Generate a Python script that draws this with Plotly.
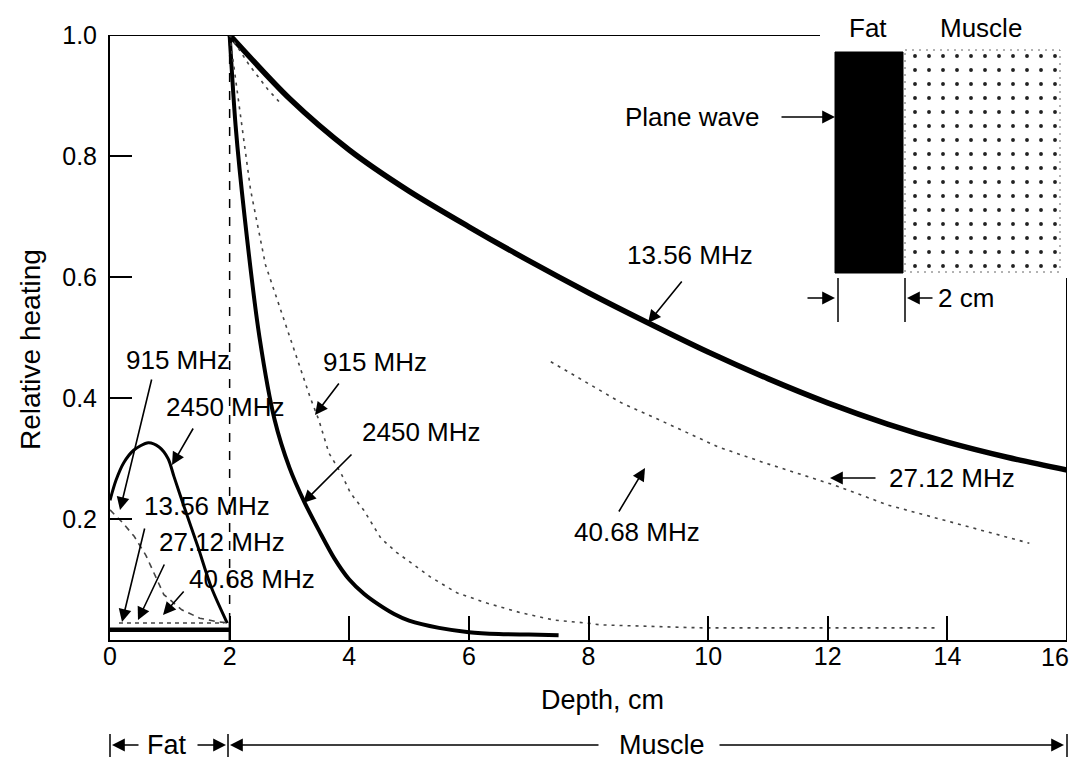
import plotly.graph_objects as go

# ---------------- data ----------------
# Muscle region (depth >= 2 cm)
depth_1356 = [2, 3, 4, 5, 6, 7, 8, 9, 10, 11, 12, 13, 14, 15, 16]
heat_1356 = [1.0, 0.895, 0.81, 0.742, 0.683, 0.627, 0.574, 0.524, 0.476, 0.432, 0.392, 0.357, 0.327, 0.302, 0.281]

depth_2450_m = [2.0, 2.1, 2.25, 2.5, 2.75, 3.0, 3.25, 3.5, 3.75, 4.0, 4.25, 4.5, 4.75, 5.0, 5.5, 6.0, 6.5, 7.0, 7.5]
heat_2450_m = [1.0, 0.85, 0.70, 0.50, 0.365, 0.285, 0.228, 0.18, 0.135, 0.10, 0.076, 0.058, 0.043, 0.032, 0.02, 0.013, 0.01, 0.009, 0.008]

depth_915_m = [2.0, 2.35, 2.6, 3.35, 3.49, 3.66, 3.86, 4.02, 4.24, 4.53, 4.79, 5.13, 5.36, 5.8, 6.3, 6.87, 7.42, 7.97, 8.2, 9.9, 11.0, 13.8]
heat_915_m = [1.0, 0.744, 0.62, 0.40, 0.364, 0.309, 0.276, 0.243, 0.215, 0.168, 0.145, 0.121, 0.104, 0.078, 0.061, 0.045, 0.033, 0.028, 0.025, 0.02, 0.02, 0.02]

depth_2712_m = [2.0, 2.33, 2.64, 2.87, None, 7.37, 8.55, 9.18, 10.17, 10.94, 12.11, 13.01, 14.06, 15.37]
heat_2712_m = [1.0, 0.95, 0.91, 0.885, None, 0.46, 0.392, 0.364, 0.319, 0.293, 0.256, 0.223, 0.195, 0.16]

# Fat region (0-2 cm)
depth_2450_f = [0.0, 0.1, 0.23, 0.4, 0.64, 0.82, 0.97, 1.07, 1.24, 1.47, 1.69, 1.96]
heat_2450_f = [0.231, 0.264, 0.293, 0.314, 0.326, 0.319, 0.30, 0.27, 0.22, 0.154, 0.088, 0.028]

depth_915_f = [0.0, 0.2, 0.4, 0.6, 0.9, 1.2, 1.5, 1.8, 2.0]
heat_915_f = [0.215, 0.195, 0.172, 0.14, 0.075, 0.05, 0.036, 0.03, 0.028]

depth_low_f = [0.0, 2.0]
heat_low_f = [0.017, 0.017]

depth_low2_f = [0.15, 1.9]
heat_low2_f = [0.028, 0.028]

x_tick_vals = [0, 2, 4, 6, 8, 10, 12, 14, 16]
x_tick_text = ["0", "2", "4", "6", "8", "10", "12", "14", ""]
y_tick_vals = [0.2, 0.4, 0.6, 0.8, 1.0]
y_tick_text = ["0.2", "0.4", "0.6", "0.8", "1.0"]

# ---------------- layout helpers ----------------
FONT = "Liberation Sans, Arial, Helvetica, sans-serif"
W, H = 1071, 765
L, R, T, B = 110, 4, 35, 125
PW, PH = W - L - R, H - T - B
XMAX = 16.0


def dx(px):
    return (px - L) / PW * XMAX


def dy(py):
    return (T + PH - py) / PH


def pxp(px):
    return (px - L) / PW


fig = go.Figure()

fig.add_trace(go.Scatter(x=depth_1356, y=heat_1356, mode="lines",
                         line=dict(color="black", width=5.5, shape="spline", smoothing=0.8),
                         hoverinfo="skip"))
fig.add_trace(go.Scatter(x=depth_2450_m, y=heat_2450_m, mode="lines",
                         line=dict(color="black", width=4, shape="spline", smoothing=0.8),
                         hoverinfo="skip"))
fig.add_trace(go.Scatter(x=depth_915_m, y=heat_915_m, mode="lines",
                         line=dict(color="#444", width=1.6, dash="3px,5px"),
                         hoverinfo="skip"))
fig.add_trace(go.Scatter(x=depth_2712_m, y=heat_2712_m, mode="lines",
                         line=dict(color="#444", width=1.6, dash="3px,5px"),
                         connectgaps=False, hoverinfo="skip"))
fig.add_trace(go.Scatter(x=depth_2450_f, y=heat_2450_f, mode="lines",
                         line=dict(color="black", width=3, shape="spline", smoothing=0.8),
                         hoverinfo="skip"))
fig.add_trace(go.Scatter(x=depth_915_f, y=heat_915_f, mode="lines",
                         line=dict(color="#444", width=1.6, dash="6px,5px"),
                         hoverinfo="skip"))
fig.add_trace(go.Scatter(x=depth_low_f, y=heat_low_f, mode="lines",
                         line=dict(color="black", width=4.5), hoverinfo="skip"))
fig.add_trace(go.Scatter(x=depth_low2_f, y=heat_low2_f, mode="lines",
                         line=dict(color="#444", width=1.5, dash="4px,4px"), hoverinfo="skip"))

# stippled muscle block of the inset
mx0, mx1, my0, my1 = dx(905), dx(1060), dy(50), dy(272)
fig.add_trace(go.Scatter(x=[mx0, mx1, mx1, mx0, mx0], y=[my0, my0, my1, my1, my0],
                         mode="lines", fill="toself", fillcolor="white",
                         fillpattern=dict(shape=".", fgcolor="#222", bgcolor="white",
                                          size=14, solidity=0.06),
                         line=dict(color="#666", width=1, dash="2px,5px"),
                         hoverinfo="skip"))

shapes = []
shapes.append(dict(type="line", xref="x", yref="y", x0=0, x1=dx(820), y0=1.0, y1=1.0,
                   line=dict(color="black", width=2)))
shapes.append(dict(type="line", xref="x", yref="y", x0=16, x1=16, y0=0, y1=dy(278),
                   line=dict(color="black", width=2)))
shapes.append(dict(type="line", xref="x", yref="y", x0=2, x1=2, y0=0, y1=1.0,
                   line=dict(color="black", width=1.5, dash="dash")))
shapes.append(dict(type="line", xref="x", yref="y", x0=2, x1=2, y0=0, y1=0.03,
                   line=dict(color="black", width=2)))
shapes.append(dict(type="rect", xref="x", yref="y", x0=dx(835), x1=dx(903), y0=dy(273), y1=dy(52),
                   fillcolor="black", line=dict(color="black", width=1)))
for xb in (838, 905):
    shapes.append(dict(type="line", xref="x", yref="y", x0=dx(xb), x1=dx(xb), y0=dy(322), y1=dy(278),
                       line=dict(color="black", width=1.5)))
yb = (T + PH - 745) / PH
ybt = (T + PH - 734) / PH
ybb = (T + PH - 757) / PH
for xb in (110, 228, 1067):
    shapes.append(dict(type="line", xref="paper", yref="paper", x0=pxp(xb), x1=pxp(xb), y0=ybb, y1=ybt,
                       line=dict(color="black", width=1.5)))
fig.update_layout(shapes=shapes)

ann = []


def label(text, px, py, size=26):
    ann.append(dict(text=text, xref="paper", yref="paper", x=pxp(px), y=(T + PH - py) / PH,
                    showarrow=False, font=dict(family=FONT, size=size, color="black"),
                    xanchor="center", yanchor="middle"))


def arrow(tx, ty, hx, hy):
    ann.append(dict(text="", xref="paper", yref="paper", axref="pixel", ayref="pixel",
                    x=pxp(hx), y=(T + PH - hy) / PH, ax=tx - hx, ay=ty - hy, showarrow=True,
                    arrowhead=2, arrowsize=1.6, arrowwidth=1.6, arrowcolor="black"))


# fat-region labels
label("915 MHz", 178, 360)
arrow(152, 378, 120, 510)
label("2450 MHz", 225, 407)
arrow(194, 427, 172, 465)
label("13.56 MHz", 207, 506)
arrow(145, 527, 122, 622)
label("27.12 MHz", 222, 542)
arrow(165, 563, 138, 620)
label("40.68 MHz", 252, 579)
arrow(185, 590, 163, 615)

# muscle-region labels
label("915 MHz", 375, 362)
arrow(340, 382, 315, 415)
label("2450 MHz", 421, 432)
arrow(353, 453, 303, 503)
label("13.56 MHz", 690, 255)
arrow(683, 280, 648, 323)
label("27.12 MHz", 952, 478)
arrow(877, 478, 830, 478)
label("40.68 MHz", 637, 532)
arrow(618, 513, 645, 468)

# inset
label("Plane wave", 692, 117)
arrow(780, 117, 835, 117)
label("Fat", 868, 28)
label("Muscle", 981, 28)
arrow(806, 298, 835, 298)
arrow(934, 298, 907, 298)
label("2 cm", 966, 298)

# last x tick label (kept inside the page)
ann.append(dict(text="16", xref="paper", yref="paper", x=1.0 + R / PW, y=(T + PH - 657) / PH,
                showarrow=False, font=dict(family=FONT, size=25, color="black"),
                xanchor="right", yanchor="middle"))

# axis titles
label("Depth, cm", 602, 700, size=27)
ann.append(dict(text="Relative heating", xref="paper", yref="paper", x=pxp(30), y=(T + PH - 350) / PH,
                showarrow=False, textangle=-90, font=dict(family=FONT, size=28, color="black"),
                xanchor="center", yanchor="middle"))

# bottom Fat / Muscle scale
label("Fat", 167, 745, size=27)
label("Muscle", 662, 745, size=27)
arrow(140, 745, 112, 745)
arrow(196, 745, 226, 745)
arrow(600, 745, 230, 745)
arrow(718, 745, 1064, 745)

fig.update_layout(annotations=ann)

fig.update_xaxes(range=[0, XMAX], tickvals=x_tick_vals, ticktext=x_tick_text, ticks="inside",
                 ticklen=24, tickwidth=1.5,
                 tickcolor="black", showline=True, linecolor="black", linewidth=2,
                 showgrid=False, zeroline=False, automargin=False,
                 ticklabelstandoff=-7,
                 tickfont=dict(family=FONT, size=25, color="black"))
fig.update_yaxes(range=[0, 1.0], tickvals=y_tick_vals, ticktext=y_tick_text, ticks="inside",
                 ticklen=22, tickwidth=1.5, tickcolor="black", showline=True, linecolor="black",
                 linewidth=2, showgrid=False, zeroline=False, automargin=False,
                 ticklabelstandoff=6,
                 tickfont=dict(family=FONT, size=25, color="black"))

fig.update_layout(width=W, height=H, template="none", showlegend=False,
                  margin=dict(l=L, r=R, t=T, b=B, pad=0),
                  paper_bgcolor="white", plot_bgcolor="white",
                  font=dict(family=FONT, color="black"))

fig.write_html("out.html")
